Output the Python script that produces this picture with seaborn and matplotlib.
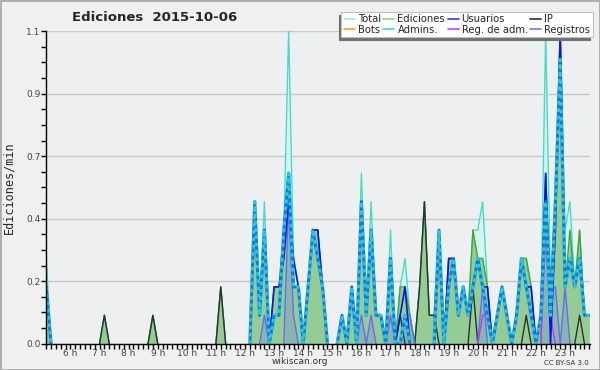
import matplotlib
matplotlib.use("Agg")
import matplotlib.pyplot as plt
import matplotlib.ticker as mticker
from matplotlib.lines import Line2D
import numpy as np
import pandas as pd
import seaborn as sns

# 10 minute bins, first bin at 5:10 (minutes since midnight)
START_MIN = 310
STEP_MIN = 10

total = [
    .3, 0, 0, 0, 0, 0, 0, 0, 0, 0,
    0, 0, .1, 0, 0, 0, 0, 0, 0, 0,
    0, 0, .1, 0, 0, 0, 0, 0, 0, 0,
    0, 0, 0, 0, 0, 0, .2, 0, 0, 0,
    0, 0, 0, .5, .1, .5, 0, .2, .2, .4,
    1.1, .3, .2, 0, .2, .4, .4, .2, 0, 0,
    0, .1, 0, .2, 0, .6, .1, .5, .1, .1,
    0, .4, 0, .2, .3, .1, 0, .2, .5, .1,
    .1, .4, 0, .3, .3, .1, .2, .1, .4, .4,
    .5, .2, 0, .1, .2, .1, 0, .1, .3, .3,
    .2, 0, .1, 1.1, .2, .5, 1.1, .4, .5, .2,
    .4, .1, .1]
ediciones = [
    .2, 0, 0, 0, 0, 0, 0, 0, 0, 0,
    0, 0, .1, 0, 0, 0, 0, 0, 0, 0,
    0, 0, .1, 0, 0, 0, 0, 0, 0, 0,
    0, 0, 0, 0, 0, 0, .2, 0, 0, 0,
    0, 0, 0, .5, .1, .4, 0, .2, .2, .4,
    .6, .2, .2, 0, .2, .4, .4, .2, 0, 0,
    0, .1, 0, .2, 0, .5, .1, .4, .1, .1,
    0, .3, 0, .2, .2, .1, 0, .2, .5, .1,
    .1, .4, 0, .3, .3, .1, .2, .1, .4, .3,
    .3, .2, 0, .1, .2, .1, 0, .1, .3, .3,
    .2, 0, .1, .6, .2, .5, 1.1, .2, .4, .2,
    .4, .1, .1]
usuarios = [
    .2, 0, 0, 0, 0, 0, 0, 0, 0, 0,
    0, 0, 0, 0, 0, 0, 0, 0, 0, 0,
    0, 0, 0, 0, 0, 0, 0, 0, 0, 0,
    0, 0, 0, 0, 0, 0, 0, 0, 0, 0,
    0, 0, 0, .5, .1, .4, 0, .2, .2, .3,
    .5, .3, .2, 0, .2, .4, .4, .2, 0, 0,
    0, .1, 0, .2, 0, .5, .1, .4, .1, .1,
    0, .3, 0, .1, .2, 0, 0, 0, 0, 0,
    0, .4, 0, .3, .3, .1, .2, .1, .2, .3,
    .2, .2, 0, .1, .2, .1, 0, .1, .3, .2,
    .2, 0, .1, .6, 0, .4, 1.1, .2, .3, .2,
    .3, .1, .1]
ip = [
    0, 0, 0, 0, 0, 0, 0, 0, 0, 0,
    0, 0, .1, 0, 0, 0, 0, 0, 0, 0,
    0, 0, .1, 0, 0, 0, 0, 0, 0, 0,
    0, 0, 0, 0, 0, 0, .2, 0, 0, 0,
    0, 0, 0, 0, 0, 0, 0, 0, 0, 0,
    0, 0, 0, 0, 0, 0, 0, 0, 0, 0,
    0, 0, 0, 0, 0, 0, 0, 0, 0, 0,
    0, 0, 0, .1, 0, 0, 0, .2, .5, .1,
    .1, 0, 0, 0, 0, 0, 0, 0, .2, 0,
    0, 0, 0, 0, 0, 0, 0, 0, 0, .1,
    0, 0, 0, 0, 0, 0, 0, 0, 0, 0,
    .1, 0, 0]
admins = [
    .2, 0, 0, 0, 0, 0, 0, 0, 0, 0,
    0, 0, 0, 0, 0, 0, 0, 0, 0, 0,
    0, 0, 0, 0, 0, 0, 0, 0, 0, 0,
    0, 0, 0, 0, 0, 0, 0, 0, 0, 0,
    0, 0, 0, .5, .1, .4, 0, .1, .1, .4,
    .6, .2, .2, 0, .2, .4, .3, .2, 0, 0,
    0, .1, 0, .2, 0, .5, .1, .4, .1, .1,
    0, .3, 0, 0, .1, 0, 0, 0, 0, 0,
    0, .4, 0, .2, .3, .1, .2, .1, .2, .3,
    .2, .1, 0, .1, .2, .1, 0, .1, .3, .2,
    .1, 0, .1, .5, .1, .5, 1.0, .2, .3, .2,
    .3, .1, .1]
registros = [
    0, 0, 0, 0, 0, 0, 0, 0, 0, 0,
    0, 0, 0, 0, 0, 0, 0, 0, 0, 0,
    0, 0, 0, 0, 0, 0, 0, 0, 0, 0,
    0, 0, 0, 0, 0, 0, 0, 0, 0, 0,
    0, 0, 0, 0, 0, .1, 0, 0, 0, 0,
    .5, .1, 0, 0, 0, 0, 0, 0, 0, 0,
    0, 0, 0, 0, 0, .1, 0, .1, 0, 0,
    0, .1, 0, 0, .1, .1, 0, 0, 0, 0,
    0, 0, 0, 0, 0, 0, 0, 0, 0, 0,
    .2, 0, 0, 0, 0, 0, 0, 0, 0, 0,
    0, 0, 0, .5, .2, .2, 0, .2, 0, 0,
    0, 0, 0]
reg_adm = [
    0, 0, 0, 0, 0, 0, 0, 0, 0, 0,
    0, 0, 0, 0, 0, 0, 0, 0, 0, 0,
    0, 0, 0, 0, 0, 0, 0, 0, 0, 0,
    0, 0, 0, 0, 0, 0, 0, 0, 0, 0,
    0, 0, 0, 0, 0, 0, 0, 0, 0, 0,
    0, 0, 0, 0, 0, 0, 0, 0, 0, 0,
    0, 0, 0, 0, 0, 0, 0, 0, 0, 0,
    0, 0, 0, 0, 0, 0, 0, 0, 0, 0,
    0, 0, 0, 0, 0, 0, 0, 0, 0, 0,
    .1, .1, 0, 0, 0, 0, 0, 0, 0, 0,
    0, 0, 0, .4, .1, 0, 0, 0, 0, 0,
    0, 0, 0]

hours = list(range(6, 24))
legend_names = ["Total", "Bots", "Ediciones", "Admins.",
                "Usuarios", "Reg. de adm.", "IP", "Registros"]
legend_colors = ["#a8e8e0", "#f5a030", "#90d890", "#40d0e8",
                 "#3838e0", "#d040f0", "#303030", "#7878f0"]

df = pd.DataFrame({
    "total": total, "ediciones": ediciones, "usuarios": usuarios,
    "ip": ip, "admins": admins, "registros": registros,
    "reg_adm": reg_adm})
df["t"] = START_MIN + STEP_MIN * np.arange(len(df))


def active_parts(col):
    """ Rows of one series, split in runs so idle stretches draw nothing """
    z = df[col].eq(0)
    idle = z & z.shift(1, fill_value=True) & z.shift(-1, fill_value=True)
    part = pd.DataFrame({"t": df["t"], "v": df[col], "run": idle.cumsum()})
    return part[~idle]


sns.set_style("ticks")
plt.rcParams["font.family"] = ["DejaVu Sans"]

fig = plt.figure(figsize=(6, 3.7), dpi=100)
fig.patch.set_facecolor("#f0f0f0")
ax = fig.add_axes([0.077, 0.071, 0.906, 0.845])
ax.set_facecolor("#eeeff1")

# filled areas
ax.fill_between(df["t"], df["total"], color="#d6f4ef", lw=0)
ax.fill_between(df["t"], df["ediciones"], color="#94cc94", lw=0)
ax.fill_between(df["t"], df["registros"], color="#7070ff", alpha=0.25, lw=0)

styles = [
    ("total", "#48dcc8", 1, "-"),
    ("ediciones", "#3aa83a", 1, "-"),
    ("ip", "#303030", 1, "-"),
    ("registros", "#6a6af5", 1, "-"),
    ("reg_adm", "#c03ae8", 1, "-"),
    ("usuarios", "#0a14e6", 1.2, "-"),
    # admins: striped look, blue under cyan dashes
    ("admins", "#1478d8", 2.2, "-"),
    ("admins", "#28c8e0", 2.2, (0, (1.2, 1.2))),
]
for col, color, lw, ls in styles:
    sns.lineplot(data=active_parts(col), x="t", y="v", units="run",
                 estimator=None, color=color, lw=lw, ls=ls, ax=ax)

ax.set_xlim(START_MIN, START_MIN + STEP_MIN * (len(df) - 1) + 1)
ax.set_ylim(0, 1.1)
ax.set_xticks([h * 60 for h in hours])
ax.set_xticklabels(["%d h" % h for h in hours])
ax.xaxis.set_minor_locator(mticker.MultipleLocator(STEP_MIN))
ax.set_yticks(np.linspace(0, 1.1, 6))
ax.yaxis.set_major_formatter(mticker.FormatStrFormatter("%.1f"))
ax.yaxis.set_minor_locator(mticker.AutoMinorLocator(4))
ax.tick_params(axis="both", which="both", direction="out", length=3.5,
               width=1, color="black", labelsize=6.5, labelcolor="#444444",
               pad=0.5)
ax.grid(axis="y", color="#c8c8c8", lw=1)
ax.set_axisbelow(True)
for s in ["top", "right"]:
    ax.spines[s].set_visible(False)
for s in ["left", "bottom"]:
    ax.spines[s].set_color("black")
    ax.spines[s].set_linewidth(1)
ax.set_xlabel("")
ax.set_ylabel("Ediciones/min", family="DejaVu Sans Mono", fontsize=8.5,
              labelpad=8)

fig.text(0.258, 0.952, "Ediciones  2015-10-06", ha="center", va="center",
         fontsize=9.5, weight="bold")
fig.text(0.5, 0.022, "wikiscan.org", ha="center", va="center",
         fontsize=6.5, color="#333333")
fig.text(0.982, 0.02, "CC BY-SA 3.0", ha="right", va="center", fontsize=5,
         color="#333333")

handles = [Line2D([], [], color=c, lw=1.2) for c in legend_colors]
leg = ax.legend(handles, legend_names, ncol=4, loc="upper right",
                bbox_to_anchor=(0.988, 0.968), bbox_transform=fig.transFigure,
                fontsize=7.2, frameon=True, fancybox=False,
                shadow={"ox": -2, "oy": -2, "color": "#707070", "alpha": 1},
                handlelength=1.1, handletextpad=0.3, columnspacing=0.25,
                labelspacing=0.05, borderpad=0.25, borderaxespad=0)
leg.get_frame().set_edgecolor("#c0c0c0")
leg.get_frame().set_facecolor("white")
leg.get_frame().set_alpha(1)
leg.get_frame().set_linewidth(0.8)

fig.patch.set_edgecolor("#b0b0b0")
fig.patch.set_linewidth(2)
fig.savefig("out.png", dpi=100, facecolor=fig.get_facecolor(),
            edgecolor=fig.get_edgecolor())
